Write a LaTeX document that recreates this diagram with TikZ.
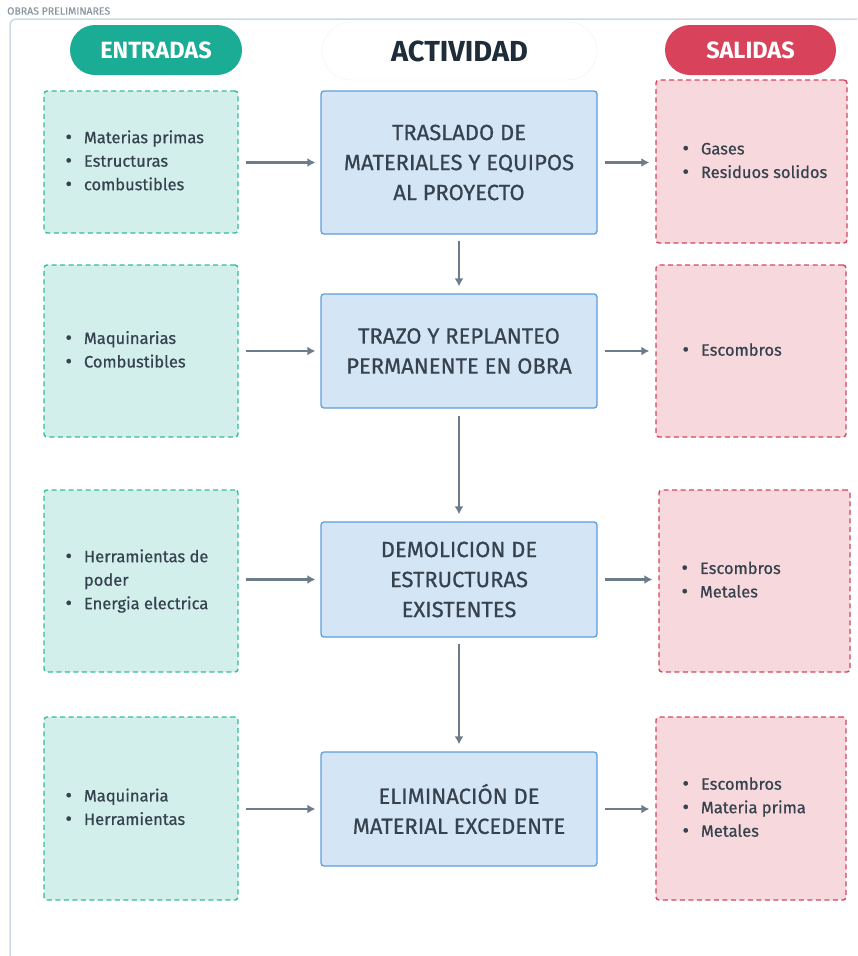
\documentclass[tikz,border=0pt]{standalone}
\usepackage{fontspec}
\setmainfont{Fira Sans}
\newfontfamily\medfont{Fira Sans}[FakeBold=0.6]
\usetikzlibrary{arrows.meta}
\definecolor{tealpill}{HTML}{1BAC96}
\definecolor{tealfill}{HTML}{D2EFEC}
\definecolor{tealline}{HTML}{35BB9C}
\definecolor{redpill}{HTML}{D8435B}
\definecolor{redfill}{HTML}{F7D8DC}
\definecolor{redline}{HTML}{D2465F}
\definecolor{bluefill}{HTML}{D4E5F6}
\definecolor{blueline}{HTML}{5E9EDB}
\definecolor{txtc}{HTML}{36424D}
\definecolor{arrowc}{HTML}{6D7C8B}
\definecolor{framec}{HTML}{CED8E4}
\definecolor{titlec}{HTML}{8C97A3}
\definecolor{actxt}{HTML}{1F2D3A}
\newcommand\bul{\raisebox{-0.5pt}{\fontsize{20}{20}\selectfont\textbullet}}
\newcommand\blist[1]{{\medfont\fontsize{16.5}{23.5}\selectfont\begin{tabular}{@{}l@{\hspace{12pt}}l@{}}#1\end{tabular}}}
\begin{document}
\begin{tikzpicture}[x=1pt,y=-1pt,
  inbox/.style={draw=tealline, fill=tealfill, dash pattern=on 5pt off 3.5pt, line width=1.4pt, rounded corners=3pt, minimum width=194pt, inner sep=0pt},
  outbox/.style={draw=redline, fill=redfill, dash pattern=on 5pt off 3.5pt, line width=1.4pt, rounded corners=3pt, minimum width=190pt, inner sep=0pt},
  actbox/.style={draw=blueline, fill=bluefill, line width=1.3pt, rounded corners=3pt, minimum width=276pt, inner sep=0pt, align=center, text=txtc, font=\medfont\fontsize{22}{30}\selectfont},
  itemtxt/.style={anchor=west, inner sep=0pt, text=txtc},
  pill/.style={rounded corners=25pt, minimum height=50pt, inner sep=0pt, text=white, font=\fontsize{23.5}{26}\selectfont\bfseries},
  arr/.style={draw=arrowc, line width=2.2pt, -{Latex[length=8pt,width=9pt]}}
]
\useasboundingbox (0,0) rectangle (857,956);
% frame
\draw[framec, line width=1.5pt, rounded corners=6pt] (10,956) -- (10,19) -- (857,19);
\node[anchor=west, inner sep=0pt, text=titlec, font=\medfont\fontsize{10.5}{12}\selectfont] (title) at (7,11) {OBRAS PRELIMINARES};
% headers
\node[pill, fill=tealpill, minimum width=172pt] (hin) at (156,50) {ENTRADAS};
\node[pill, fill=white, draw=black!5, rounded corners=29pt, minimum width=275pt, minimum height=58pt, text=actxt, font=\fontsize{29}{30}\selectfont\bfseries] (hact) at (459.5,51) {ACTIVIDAD};
\node[pill, fill=redpill, minimum width=171pt] (hout) at (750.5,50) {SALIDAS};
% left boxes
\node[inbox, minimum height=142pt] (l1) at (141,162) {};
\node[inbox, minimum height=172pt] (l2) at (141,351) {};
\node[inbox, minimum height=182pt] (l3) at (141,581) {};
\node[inbox, minimum height=183pt] (l4) at (141,808.5) {};
\node[itemtxt] (l1t) at ([xshift=22pt]l1.west) {\blist{\bul & Materias primas\\ \bul & Estructuras\\ \bul & combustibles}};
\node[itemtxt] (l2t) at ([xshift=22pt]l2.west) {\blist{\bul & Maquinarias\\ \bul & Combustibles}};
\node[itemtxt] (l3t) at ([xshift=22pt]l3.west) {\blist{\bul & Herramientas de\\ & poder\\ \bul & Energia electrica}};
\node[itemtxt] (l4t) at ([xshift=22pt]l4.west) {\blist{\bul & Maquinaria\\ \bul & Herramientas}};
% center boxes
\node[actbox, minimum height=143pt] (c1) at (459,162.5) {TRASLADO DE\\MATERIALES Y EQUIPOS\\AL PROYECTO};
\node[actbox, minimum height=114pt] (c2) at (459,351) {TRAZO Y REPLANTEO\\PERMANENTE EN OBRA};
\node[actbox, minimum height=115pt] (c3) at (459,579.5) {DEMOLICION DE\\ESTRUCTURAS\\EXISTENTES};
\node[actbox, minimum height=114pt] (c4) at (459,809) {ELIMINACIÓN DE\\MATERIAL EXCEDENTE};
% right boxes
\node[outbox, minimum width=191pt, minimum height=163pt] (r1) at (751.5,161.5) {};
\node[outbox, minimum height=172pt] (r2) at (751,351) {};
\node[outbox, minimum width=191pt, minimum height=182pt] (r3) at (754.5,581) {};
\node[outbox, minimum height=183pt] (r4) at (751,808.5) {};
\node[itemtxt] (r1t) at ([xshift=27pt]r1.west) {\blist{\bul & Gases\\ \bul & Residuos solidos}};
\node[itemtxt] (r2t) at ([xshift=27pt]r2.west) {\blist{\bul & Escombros}};
\node[itemtxt] (r3t) at ([xshift=23pt]r3.west) {\blist{\bul & Escombros\\ \bul & Metales}};
\node[itemtxt] (r4t) at ([xshift=27pt]r4.west) {\blist{\bul & Escombros\\ \bul & Materia prima\\ \bul & Metales}};
% arrows
\foreach \i in {1,2,3,4} {
  \draw[arr, shorten <=7pt, shorten >=5pt] (l\i.east |- c\i.west) -- (c\i.west);
  \draw[arr, shorten <=7pt, shorten >=6pt] (c\i.east) -- (c\i.east -| r\i.west);
}
\draw[arr, shorten <=6pt, shorten >=7pt] (c1.south) -- (c2.north);
\draw[arr, shorten <=7pt, shorten >=7pt] (c2.south) -- (c3.north);
\draw[arr, shorten <=6pt, shorten >=7pt] (c3.south) -- (c4.north);
\end{tikzpicture}
\end{document}
